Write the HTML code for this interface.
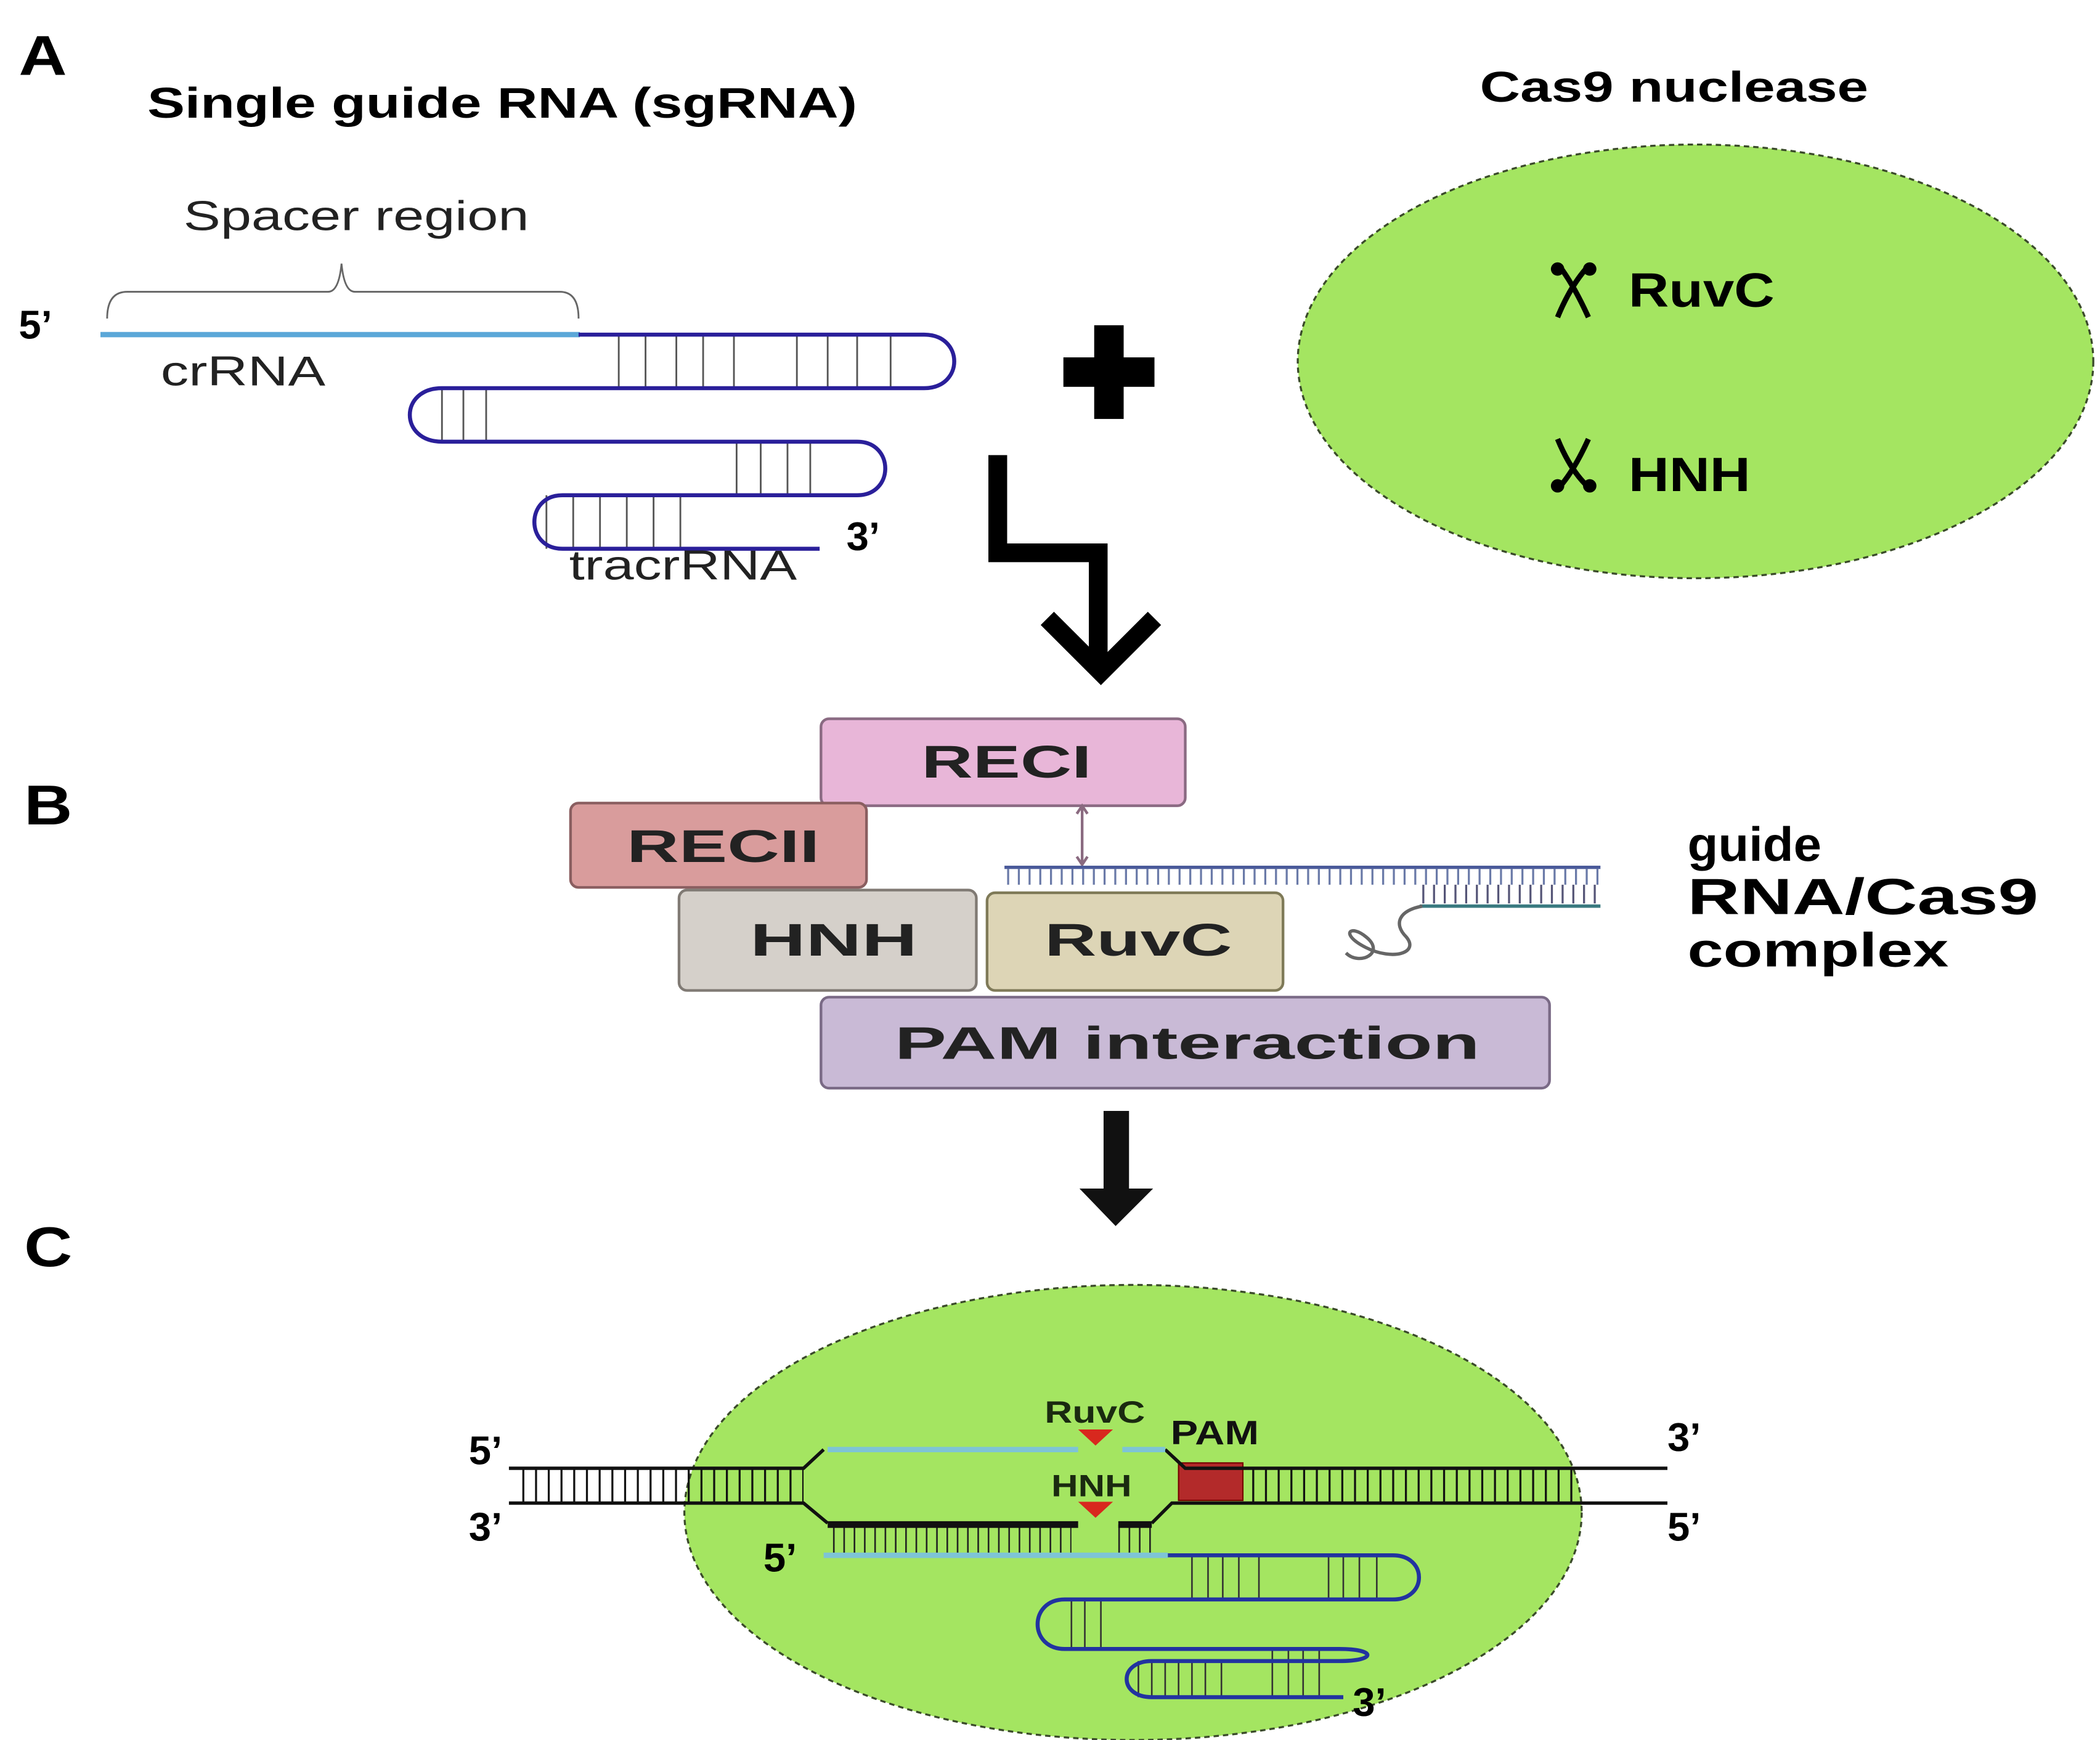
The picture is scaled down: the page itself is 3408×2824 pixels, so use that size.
<!DOCTYPE html>
<html><head><meta charset="utf-8"><style>
html,body{margin:0;padding:0;background:#fff;}
svg{display:block;}
text{font-family:"Liberation Sans",sans-serif;}
</style></head><body>
<svg width="3408" height="2824" viewBox="0 0 1568 1300" preserveAspectRatio="none" xmlns="http://www.w3.org/2000/svg">
<rect width="1568" height="1300" fill="#fff"/>
<!-- Panel A -->
<text x="14" y="56" font-size="42" font-weight="bold" textLength="36" lengthAdjust="spacingAndGlyphs">A</text>
<text x="110" y="88" font-size="32" font-weight="bold" textLength="530" lengthAdjust="spacingAndGlyphs">Single guide RNA (sgRNA)</text>
<text x="1105" y="76" font-size="32" font-weight="bold" textLength="290" lengthAdjust="spacingAndGlyphs">Cas9 nuclease</text>
<text x="137" y="172" font-size="31" fill="#222" textLength="258" lengthAdjust="spacingAndGlyphs">Spacer region</text>
<path d="M80,238 Q80,218 95,218 L245,218 Q253,218 255,197 Q257,218 265,218 L418,218 Q432,218 432,238" fill="none" stroke="#666" stroke-width="1.3"/>
<text x="14" y="253" font-size="30" font-weight="bold">5’</text>
<line x1="75" y1="250" x2="433" y2="250" stroke="#5ba7d8" stroke-width="4"/>
<text x="120" y="288" font-size="31" fill="#222" textLength="123" lengthAdjust="spacingAndGlyphs">crRNA</text>
<g stroke="#555" stroke-width="1.3">
<line x1="462" y1="250" x2="462" y2="290"/><line x1="482" y1="250" x2="482" y2="290"/><line x1="505" y1="250" x2="505" y2="290"/><line x1="525" y1="250" x2="525" y2="290"/><line x1="548" y1="250" x2="548" y2="290"/>
<line x1="595" y1="250" x2="595" y2="290"/><line x1="618" y1="250" x2="618" y2="290"/><line x1="640" y1="250" x2="640" y2="290"/><line x1="665" y1="250" x2="665" y2="290"/>
<line x1="330" y1="290" x2="330" y2="330"/><line x1="346" y1="290" x2="346" y2="330"/><line x1="363" y1="290" x2="363" y2="330"/>
<line x1="550" y1="330" x2="550" y2="370"/><line x1="568" y1="330" x2="568" y2="370"/><line x1="588" y1="330" x2="588" y2="370"/><line x1="605" y1="330" x2="605" y2="370"/>
<line x1="408" y1="370" x2="408" y2="410"/><line x1="428" y1="370" x2="428" y2="410"/><line x1="448" y1="370" x2="448" y2="410"/><line x1="468" y1="370" x2="468" y2="410"/><line x1="488" y1="370" x2="488" y2="410"/><line x1="508" y1="370" x2="508" y2="410"/>
</g>
<path d="M432,250 L690,250 C720,250 720,290 690,290 L330,290 C298,290 298,330 330,330 L640,330 C668,330 668,370 640,370 L420,370 C392,370 392,410 420,410 L612,410" fill="none" stroke="#2a1f9a" stroke-width="3"/>
<text x="632" y="411" font-size="30" font-weight="bold">3’</text>
<text x="425" y="433" font-size="31" fill="#222" textLength="170" lengthAdjust="spacingAndGlyphs">tracrRNA</text>
<rect x="817" y="243" width="22" height="70" fill="#000"/>
<rect x="794" y="267" width="68" height="22" fill="#000"/>
<ellipse cx="1266" cy="270" rx="297" ry="162" fill="#a4e561" stroke="#3a4a2a" stroke-width="1.5" stroke-dasharray="4 3"/>
<g stroke="#000" stroke-width="4" fill="none">
<path d="M1163,237 Q1172,215 1184,201"/><path d="M1186,237 Q1176,215 1166,201"/>
<path d="M1163,328 Q1172,350 1184,362"/><path d="M1186,328 Q1176,350 1166,362"/>
</g>
<circle cx="1163" cy="201" r="5"/><circle cx="1187" cy="201" r="5"/>
<circle cx="1163" cy="363" r="5"/><circle cx="1187" cy="363" r="5"/>
<text x="1216" y="229" font-size="36" font-weight="bold" textLength="109" lengthAdjust="spacingAndGlyphs">RuvC</text>
<text x="1216" y="367" font-size="36" font-weight="bold" textLength="91" lengthAdjust="spacingAndGlyphs">HNH</text>
<path d="M745,340 L745,413 L820,413 L820,495" fill="none" stroke="#000" stroke-width="14"/>
<path d="M782,462 L822,502 L862,462" fill="none" stroke="#000" stroke-width="14"/>
<!-- Panel B -->
<text x="18" y="616" font-size="42" font-weight="bold" textLength="36" lengthAdjust="spacingAndGlyphs">B</text>
<rect x="613" y="537" width="272" height="65" rx="6" fill="#e8b6d8" stroke="#8a6a82" stroke-width="2"/>
<text x="688" y="581" font-size="34" font-weight="bold" fill="#222" textLength="127" lengthAdjust="spacingAndGlyphs">RECI</text>
<rect x="426" y="600" width="221" height="63" rx="6" fill="#d99c9c" stroke="#8a5e60" stroke-width="2"/>
<text x="468" y="644" font-size="34" font-weight="bold" fill="#222" textLength="144" lengthAdjust="spacingAndGlyphs">RECII</text>
<rect x="507" y="665" width="222" height="75" rx="6" fill="#d5d0ca" stroke="#807a74" stroke-width="2"/>
<text x="560" y="714" font-size="34" font-weight="bold" fill="#222" textLength="125" lengthAdjust="spacingAndGlyphs">HNH</text>
<rect x="737" y="667" width="221" height="73" rx="6" fill="#ddd5b6" stroke="#7f7a58" stroke-width="2"/>
<text x="780" y="714" font-size="34" font-weight="bold" fill="#222" textLength="140" lengthAdjust="spacingAndGlyphs">RuvC</text>
<rect x="613" y="745" width="544" height="68" rx="6" fill="#c9bad6" stroke="#7a6a86" stroke-width="2"/>
<text x="668" y="791" font-size="34" font-weight="bold" fill="#222" textLength="437" lengthAdjust="spacingAndGlyphs">PAM interaction</text>
<line x1="808" y1="602" x2="808" y2="646" stroke="#8a6a80" stroke-width="2"/>
<path d="M804,608 L808,602 L812,608 M804,640 L808,646 L812,640" stroke="#8a6a80" stroke-width="2" fill="none"/>
<line x1="750" y1="648" x2="1195" y2="648" stroke="#4a5a9a" stroke-width="2.5"/>
<line x1="752" y1="655" x2="1195" y2="655" stroke="#6a7aa8" stroke-width="12" stroke-dasharray="1.5 6.5"/>
<line x1="1062" y1="668" x2="1195" y2="668" stroke="#557" stroke-width="14" stroke-dasharray="1.5 6.5"/>
<line x1="1060" y1="677" x2="1195" y2="677" stroke="#3a7a80" stroke-width="2.5"/>
<path d="M1062,677 C1045,680 1040,690 1050,700 C1060,712 1040,718 1020,708 C1000,698 1008,690 1020,700 C1035,712 1015,722 1005,712" fill="none" stroke="#666" stroke-width="2.5"/>
<text x="1260" y="643" font-size="36" font-weight="bold" textLength="100" lengthAdjust="spacingAndGlyphs">guide</text>
<text x="1260" y="683" font-size="38" font-weight="bold" textLength="262" lengthAdjust="spacingAndGlyphs">RNA/Cas9</text>
<text x="1260" y="722" font-size="36" font-weight="bold" textLength="195" lengthAdjust="spacingAndGlyphs">complex</text>
<rect x="824" y="830" width="19" height="60" fill="#111"/>
<polygon points="806,888 861,888 833,916" fill="#111"/>
<!-- Panel C -->
<text x="18" y="946" font-size="42" font-weight="bold" textLength="36" lengthAdjust="spacingAndGlyphs">C</text>
<ellipse cx="846" cy="1130" rx="335" ry="170" fill="#a4e561" stroke="#3a4a2a" stroke-width="1.5" stroke-dasharray="4 3"/>
<line x1="390" y1="1110" x2="600" y2="1110" stroke="#111" stroke-width="26" stroke-dasharray="1.5 8"/>
<line x1="935" y1="1110" x2="1180" y2="1110" stroke="#111" stroke-width="26" stroke-dasharray="1.5 8"/>
<rect x="880" y="1093" width="48" height="28" fill="#b32a2a" stroke="#700" stroke-width="1"/>
<line x1="622" y1="1150" x2="800" y2="1150" stroke="#222" stroke-width="22" stroke-dasharray="1.2 6.5"/>
<line x1="835" y1="1150" x2="862" y2="1150" stroke="#222" stroke-width="22" stroke-dasharray="1.2 6.5"/>
<path d="M380,1097 L600,1097 L615,1083" fill="none" stroke="#111" stroke-width="2.5"/>
<path d="M870,1083 L885,1097 L1245,1097" fill="none" stroke="#111" stroke-width="2.5"/>
<line x1="618" y1="1083" x2="805" y2="1083" stroke="#7ec4d6" stroke-width="4"/>
<line x1="838" y1="1083" x2="870" y2="1083" stroke="#7ec4d6" stroke-width="4"/>
<path d="M380,1123 L600,1123 L618,1138" fill="none" stroke="#111" stroke-width="2.5"/>
<line x1="618" y1="1139" x2="805" y2="1139" stroke="#111" stroke-width="5"/>
<line x1="835" y1="1139" x2="860" y2="1139" stroke="#111" stroke-width="5"/>
<path d="M860,1138 L875,1123 L1245,1123" fill="none" stroke="#111" stroke-width="2.5"/>
<polygon points="805,1068 831,1068 818,1080" fill="#d8281e"/>
<polygon points="805,1122 831,1122 818,1134" fill="#d8281e"/>
<text x="780" y="1063" font-size="23" font-weight="bold" fill="#1a2a10" textLength="75" lengthAdjust="spacingAndGlyphs">RuvC</text>
<text x="874" y="1079" font-size="25" font-weight="bold" fill="#111" textLength="66" lengthAdjust="spacingAndGlyphs">PAM</text>
<text x="785" y="1118" font-size="23" font-weight="bold" fill="#1a2a10" textLength="60" lengthAdjust="spacingAndGlyphs">HNH</text>
<text x="350" y="1094" font-size="30" font-weight="bold">5’</text>
<text x="350" y="1151" font-size="30" font-weight="bold">3’</text>
<text x="1245" y="1084" font-size="30" font-weight="bold">3’</text>
<text x="1245" y="1151" font-size="30" font-weight="bold">5’</text>
<text x="570" y="1174" font-size="30" font-weight="bold">5’</text>
<g stroke="#333" stroke-width="1.2">
<line x1="890" y1="1162" x2="890" y2="1195"/><line x1="902" y1="1162" x2="902" y2="1195"/><line x1="913" y1="1162" x2="913" y2="1195"/><line x1="925" y1="1162" x2="925" y2="1195"/><line x1="940" y1="1162" x2="940" y2="1195"/><line x1="992" y1="1162" x2="992" y2="1195"/><line x1="1003" y1="1162" x2="1003" y2="1195"/><line x1="1015" y1="1162" x2="1015" y2="1195"/><line x1="1028" y1="1162" x2="1028" y2="1195"/>
<line x1="800" y1="1195" x2="800" y2="1232"/><line x1="810" y1="1195" x2="810" y2="1232"/><line x1="822" y1="1195" x2="822" y2="1232"/>
<line x1="950" y1="1232" x2="950" y2="1268"/><line x1="962" y1="1232" x2="962" y2="1268"/><line x1="973" y1="1232" x2="973" y2="1268"/><line x1="985" y1="1232" x2="985" y2="1268"/>
<line x1="850" y1="1241" x2="850" y2="1268"/><line x1="860" y1="1241" x2="860" y2="1268"/><line x1="870" y1="1241" x2="870" y2="1268"/><line x1="880" y1="1241" x2="880" y2="1268"/><line x1="890" y1="1241" x2="890" y2="1268"/><line x1="900" y1="1241" x2="900" y2="1268"/><line x1="912" y1="1241" x2="912" y2="1268"/>
</g>
<line x1="615" y1="1162" x2="872" y2="1162" stroke="#7ec4d6" stroke-width="4"/>
<path d="M872,1162 L1040,1162 C1066,1162 1066,1195 1040,1195 L795,1195 C768,1195 768,1232 795,1232 L1000,1232 C1028,1232 1028,1241 1000,1241 L860,1241 C835,1241 835,1268 860,1268 L1003,1268" fill="none" stroke="#2233a0" stroke-width="3"/>
<text x="1010" y="1282" font-size="30" font-weight="bold">3’</text>
</svg>
</body></html>
